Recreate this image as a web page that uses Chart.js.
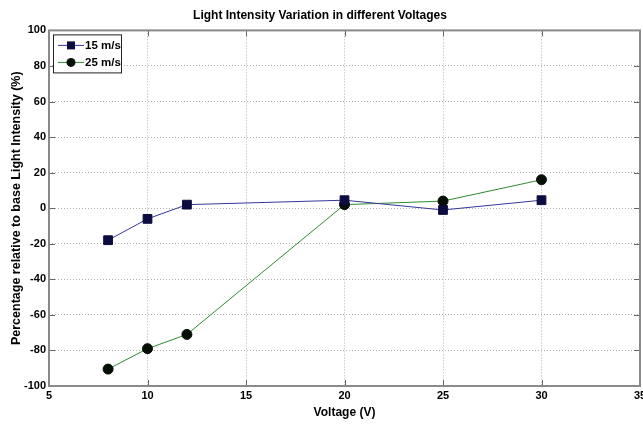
<!DOCTYPE html>
<html>
<head>
<meta charset="utf-8">
<script src="https://cdn.jsdelivr.net/npm/chart.js@4"></script>
<style>
html,body{margin:0;padding:0;background:#fff;}
#wrap{width:643px;height:424px;}
</style>
</head>
<body>
<div id="wrap"><canvas id="c" width="643" height="424"></canvas></div>
<script>
const voltages = [8, 10, 12, 20, 25, 30];
const series15 = [-18, -6, 2, 4.5, -1, 4.5];
const series25 = [-90.5, -79, -71, 2, 4, 16];
const seriesLabels = ['15 m/s', '25 m/s'];
const xTicks = [5, 10, 15, 20, 25, 30, 35];
const yTicks = [-100, -80, -60, -40, -20, 0, 20, 40, 60, 80, 100];

const FONT = "'Liberation Sans Narrow', 'Liberation Sans', Arial, sans-serif";

function pts(xs, ys){ return xs.map((x,i)=>({x:x, y:ys[i]})); }

const boxPlugin = {
  id: 'boxPlugin',
  afterDraw(chart){
    const ctx = chart.ctx, a = chart.chartArea;
    const xs = chart.scales.x, ys = chart.scales.y;
    ctx.save();
    // inward ticks
    ctx.strokeStyle = '#666';
    ctx.lineWidth = 1;
    ctx.beginPath();
    xTicks.forEach(v=>{
      const px = Math.round(xs.getPixelForValue(v))+0.5;
      ctx.moveTo(px, a.bottom); ctx.lineTo(px, a.bottom-6);
      ctx.moveTo(px, a.top); ctx.lineTo(px, a.top+6);
    });
    yTicks.forEach(v=>{
      const py = Math.round(ys.getPixelForValue(v))+0.5;
      ctx.moveTo(a.left, py); ctx.lineTo(a.left+6, py);
      ctx.moveTo(a.right, py); ctx.lineTo(a.right-6, py);
    });
    ctx.stroke();
    // box
    ctx.strokeStyle = '#8a8a8a';
    ctx.lineWidth = 2;
    ctx.strokeRect(a.left, a.top, a.right-a.left, a.bottom-a.top);
    // legend
    const lx = a.left+4, ly = a.top+4, lw = 68, lh = 38;
    ctx.fillStyle = '#fff';
    ctx.fillRect(lx, ly, lw, lh);
    ctx.strokeStyle = '#222';
    ctx.lineWidth = 1;
    ctx.strokeRect(lx+0.5, ly+0.5, lw, lh);
    chart.data.datasets.forEach((ds, i)=>{
      const cy = ly + 11 + i*17;
      ctx.strokeStyle = ds.borderColor;
      ctx.lineWidth = 1;
      ctx.beginPath();
      ctx.moveTo(lx+5, cy); ctx.lineTo(lx+31, cy);
      ctx.stroke();
      ctx.fillStyle = ds.pointBackgroundColor;
      if (ds.pointStyle === 'rect') {
        ctx.fillRect(lx+18-4, cy-4, 8, 8);
      } else {
        ctx.beginPath(); ctx.arc(lx+18, cy, 4.5, 0, Math.PI*2); ctx.fill();
      }
      ctx.fillStyle = '#000';
      ctx.font = "bold 11.5px " + FONT;
      ctx.textBaseline = 'middle';
      ctx.textAlign = 'left';
      ctx.fillText(ds.label, lx+32, cy);
    });
    ctx.restore();
  }
};

new Chart(document.getElementById('c'), {
  type: 'line',
  data: {
    datasets: [
      {
        label: seriesLabels[0],
        data: pts(voltages, series15),
        borderColor: '#35359a',
        borderWidth: 1,
        pointStyle: 'rect',
        pointRadius: 6.2,
        pointBackgroundColor: '#0c0c40',
        pointBorderColor: '#0c0c40',
        tension: 0
      },
      {
        label: seriesLabels[1],
        data: pts(voltages, series25),
        borderColor: '#2f8a2f',
        borderWidth: 1,
        pointStyle: 'circle',
        pointRadius: 5,
        pointBackgroundColor: '#050f05',
        pointBorderColor: '#050f05',
        tension: 0
      }
    ]
  },
  options: {
    responsive: false,
    animation: false,
    layout: { autoPadding: false, padding: { left: 0, right: 3, top: 0, bottom: 4 } },
    plugins: {
      legend: { display: false },
      tooltip: { enabled: false },
      title: {
        display: true,
        text: 'Light Intensity Variation in different Voltages',
        color: '#000',
        font: { family: FONT, size: 12, weight: 'bold' },
        padding: { top: 8, bottom: 8 }
      }
    },
    scales: {
      x: {
        type: 'linear',
        min: 5, max: 35,
        afterBuildTicks(s){ s.ticks = xTicks.map(v=>({value:v})); },
        afterFit(s){
          s.height = 34; s.paddingRight = 0; s.paddingLeft = 0;
        },
        grid: { color: '#b0b0b0', lineWidth: 1, drawTicks: false },
        border: { display: false, dash: [1, 2] },
        ticks: { color: '#000', font: { family: FONT, size: 11, weight: 'bold' }, padding: 3, maxRotation: 0, autoSkip: false },
        title: { display: true, text: 'Voltage (V)', color: '#000', font: { family: FONT, size: 12, weight: 'bold' }, padding: { top: 1, bottom: 0 } }
      },
      y: {
        type: 'linear',
        min: -100, max: 100,
        afterBuildTicks(s){ s.ticks = yTicks.map(v=>({value:v})); },
        afterFit(s){ s.width = 49; },
        grid: { color: '#b0b0b0', lineWidth: 1, drawTicks: false },
        border: { display: false, dash: [1, 2] },
        ticks: { color: '#000', font: { family: FONT, size: 11, weight: 'bold' }, padding: 3, autoSkip: false },
        title: { display: true, text: 'Percentage relative to base Light Intensity (%)', color: '#000', font: { family: FONT, size: 12.5, weight: 'bold' }, padding: { top: 9, bottom: 0 } }
      }
    }
  },
  plugins: [boxPlugin]
});
</script>
</body>
</html>
